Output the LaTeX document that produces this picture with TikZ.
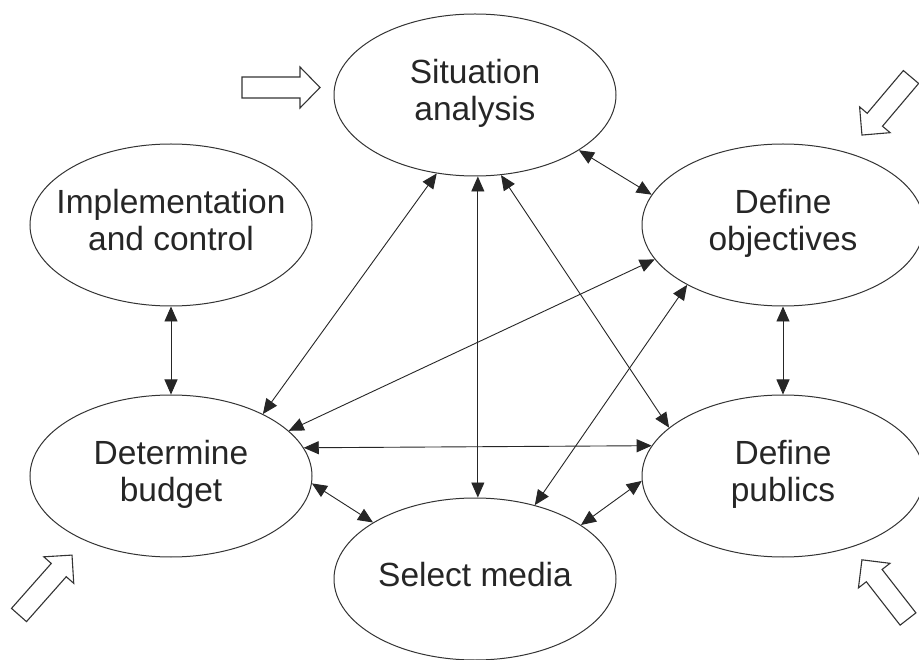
\documentclass[tikz,border=0pt]{standalone}
\usepackage{fontspec}
\setmainfont{Liberation Sans}
\usetikzlibrary{arrows.meta,shapes.geometric}
\newcommand{\ovaltext}[1]{\makebox[0pt]{\begin{tabular}{@{}c@{}}#1\end{tabular}}}
\begin{document}
\begin{tikzpicture}[x=1pt,y=-1pt,
  oval/.style={ellipse,draw=black!80,line width=1pt,minimum width=282pt,minimum height=162pt,
    inner sep=0pt,font=\fontsize{33.5}{37}\selectfont,text=black!85},
  link/.style={line width=0.9pt,draw=black!85,
    {Triangle[length=15pt,width=13pt]}-{Triangle[length=15pt,width=13pt]}},
  blockarr/.style={draw=black!80,line width=1.1pt,fill=white,line join=miter}]
\useasboundingbox (0,0) rectangle (919,660);
\fill[white] (0,0) rectangle (919,660);

\node[oval] (sit) at (475,95) {\ovaltext{Situation\\analysis}};
\node[oval] (imp) at (171,225) {\ovaltext{Implementation\\and control}};
\node[oval] (obj) at (783,225) {\ovaltext{Define\\objectives}};
\node[oval] (bud) at (171,476) {\ovaltext{Determine\\budget}};
\node[oval] (pub) at (783,476) {\ovaltext{Define\\publics}};
\node[oval] (med) at (475,579) {\ovaltext{Select media}};

\draw[link] (imp.-90) -- (bud.90);
\draw[link] (sit.-28) -- (obj.167.5);
\draw[link] (sit.-116.8) -- (bud.34);
\draw[link] (obj.-165) -- (bud.21.9);
\draw[link] (sit.-88) -- (med.88);
\draw[link] (sit.-72.8) -- (pub.157);
\draw[link] (obj.-148) -- (med.51.9);
\draw[link] (obj.-90) -- (pub.90);
\draw[link] (bud.12.4) -- (pub.167.6);
\draw[link] (bud.-3) -- (med.151);
\draw[link] (pub.182.5) -- (med.27.6);

% hollow block arrows
\draw[blockarr, shift={(242,87.5)}] (0,-10.5) -- (58,-10.5) -- (58,-20.5) -- (78,0) -- (58,20.5) -- (58,10.5) -- (0,10.5) -- cycle;
\draw[blockarr, shift={(911,77)}, rotate=-130.2] (0,-10) -- (56,-10) -- (56,-20) -- (76,0) -- (56,20) -- (56,10) -- (0,10) -- cycle;
\draw[blockarr, shift={(19,615)}, rotate=48.5] (0,-10) -- (60,-10) -- (60,-20) -- (80,0) -- (60,20) -- (60,10) -- (0,10) -- cycle;
\draw[blockarr, shift={(908,619)}, rotate=127.9] (0,-10) -- (55,-10) -- (55,-20) -- (75,0) -- (55,20) -- (55,10) -- (0,10) -- cycle;
\end{tikzpicture}
\end{document}
